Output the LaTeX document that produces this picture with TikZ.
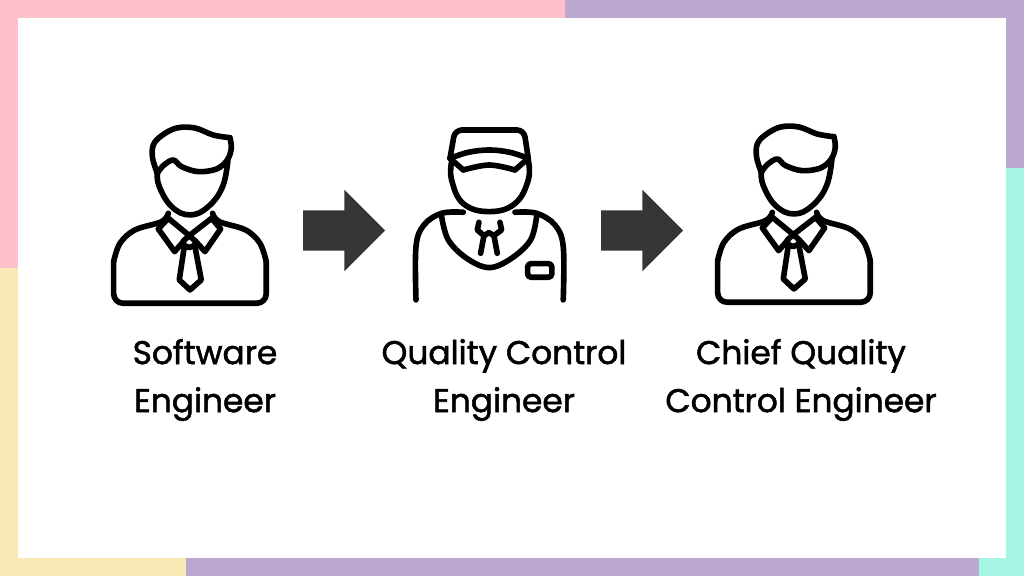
\documentclass[tikz,border=0pt]{standalone}
\usepackage{fontspec}
\setmainfont{Poppins}[BoldFont=Poppins,BoldFeatures={FakeBold=1.6}]
\usetikzlibrary{positioning,shapes.arrows}

\definecolor{bandpink}{HTML}{FFC0CB}
\definecolor{bandlilac}{HTML}{BBA8D0}
\definecolor{bandaqua}{HTML}{A5F5E3}
\definecolor{bandcream}{HTML}{F8E9B5}
\definecolor{arrowgray}{HTML}{363636}

\tikzset{
  outline/.style={line width=4.8pt, line cap=round, line join=round, black},
  pics/engineer/.style={code={
    \begin{scope}[x=0.01cm, y=-0.01cm, outline]
    % hair and face
    \draw plot[smooth, tension=0.6] coordinates {(172,175) (158,130) (160,90) (185,62) (230,39) (285,39) (340,60) (390,68)};
    \draw plot[smooth, tension=0.6] coordinates {(390,68) (394,100) (382,135) (350,162) (295,170) (245,155) (220,135) (190,152) (172,175)};
    \draw plot[smooth, tension=0.7] coordinates {(172,175) (178,215) (215,275) (270,300) (325,275) (368,215) (384,135)};
    % body
    \draw plot[smooth, tension=0.6] coordinates {(205,295) (185,320) (105,345) (60,385) (41,440)};
    \draw plot[smooth, tension=0.6] coordinates {(338,295) (358,320) (437,345) (480,385) (499,440)};
    \draw[rounded corners=8pt] (41,440) -- (41,565) -- (499,565) -- (499,440);
    % collar
    \draw (252,378) -- (224,410) -- (175,342) -- (205,310) -- (268,362) -- (335,310) -- (362,342) -- (315,410) -- (286,378);
    % tie
    \draw (250,378) -- (268,362) -- (286,378) -- (286,390) -- (268,398) -- (250,390) -- cycle;
    \draw (253,395) -- (238,495) -- (270,525) -- (304,495) -- (285,395);
    \end{scope}
  }},
  pics/inspector/.style={code={
    \begin{scope}[x=0.01cm, y=-0.01cm, outline]
    % cap
    \draw[rounded corners=6pt] (150,130) -- (165,45) -- (372,45) -- (385,130);
    \draw plot[smooth, tension=0.6] coordinates {(150,130) (205,112) (268,105) (330,112) (385,130)};
    \draw (150,130) -- (190,165);
    \draw (385,130) -- (345,165);
    \draw plot[smooth, tension=0.6] coordinates {(190,165) (268,150) (345,165)};
    % head
    \draw plot[smooth, tension=0.7] coordinates {(155,140) (155,195) (190,266) (268,290) (345,266) (385,195) (385,135)};
    % shoulders
    \draw plot[smooth, tension=0.6] coordinates {(48,555) (48,395) (72,330) (125,295) (190,292)};
    \draw plot[smooth, tension=0.6] coordinates {(490,555) (490,395) (465,330) (410,295) (345,292)};
    % neckline
    \draw plot[smooth, tension=0.6] coordinates {(125,305) (145,375) (200,430) (268,458) (335,430) (392,375) (410,305)};
    % tie
    \draw (237,322) -- (232,345) -- (252,362) -- (242,415);
    \draw (300,322) -- (305,345) -- (282,362) -- (292,415);
    \draw (252,362) -- (267,353) -- (282,362);
    % badge
    \draw[rounded corners=3pt] (383,446) rectangle (456,487);
    \end{scope}
  }}
}

\begin{document}
\begin{tikzpicture}[
  x=0.03cm, y=-0.03cm,
  bigarrow/.style={single arrow, fill=arrowgray, draw=none, inner sep=0pt,
    minimum height=2.46cm, minimum width=2.43cm, single arrow head extend=0.615cm,
    single arrow tip angle=90},
  caption/.style={align=center, font=\fontsize{28}{41}\selectfont\bfseries, inner sep=0pt}
]
% frame
\fill[white] (0,0) rectangle (1024,576);
\fill[bandpink] (0,0) rectangle (565,18);
\fill[bandpink] (0,0) rectangle (18,268);
\fill[bandlilac] (565,0) rectangle (1024,18);
\fill[bandlilac] (1006,0) rectangle (1024,168);
\fill[bandaqua] (1006,168) rectangle (1024,576);
\fill[bandaqua] (979,558) rectangle (1024,576);
\fill[bandlilac] (186,558) rectangle (979,576);
\fill[bandcream] (0,558) rectangle (186,576);
\fill[bandcream] (0,268) rectangle (18,576);
\useasboundingbox (0,0) rectangle (1024,576);

\pic (first) at (100,115) {engineer};
\pic (second) at (400,115) {inspector};
\pic (third) at (704,114) {engineer};

\node[bigarrow] (arrowA) at (334,230.5) {\rule{0pt}{1.2cm}};
\node[bigarrow] (arrowB) at (632,230.5) {\rule{0pt}{1.2cm}};

\node[caption] (labelA) at (205,380) {Software\\Engineer};
\node[caption] (labelB) at (504,380) {Quality Control\\Engineer};
\node[caption] (labelC) at (801,380) {Chief Quality\\Control Engineer};

\end{tikzpicture}
\end{document}
